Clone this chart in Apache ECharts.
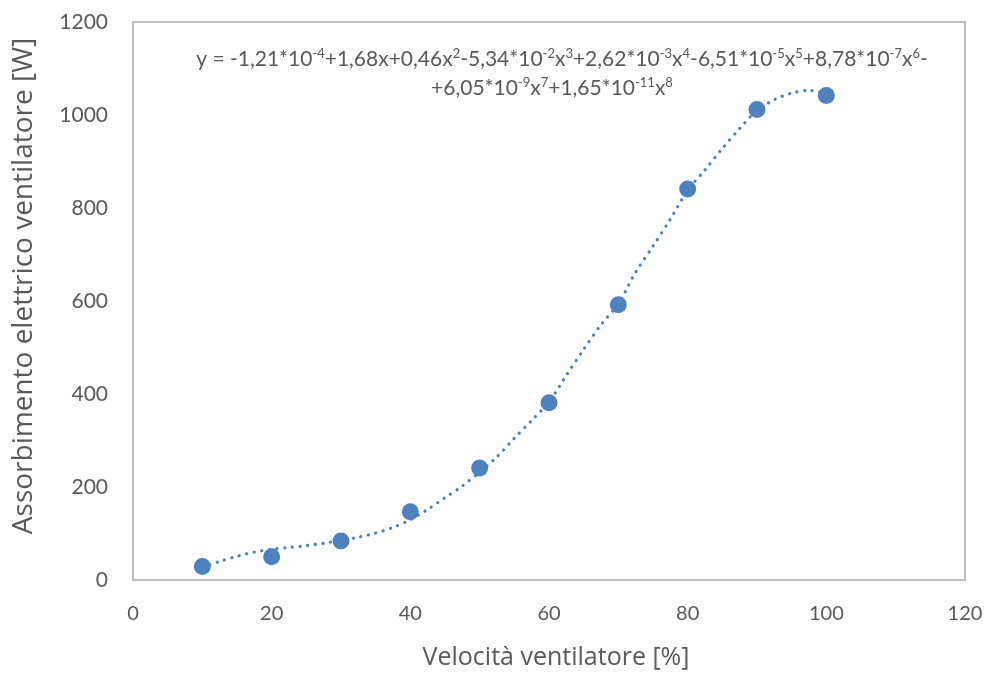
<!DOCTYPE html>
<html>
<head>
<meta charset="utf-8">
<script src="https://cdn.jsdelivr.net/npm/echarts@6/dist/echarts.min.js"></script>
<style>
html,body{margin:0;padding:0;background:#fff;}
#c{width:987px;height:675px;}
</style>
</head>
<body>
<div id="c"></div>
<script>
// Measured points
const speedPct = [10, 20, 30, 40, 50, 60, 70, 80, 90, 100];
const powerW = [29, 50, 84, 147, 241, 381, 592, 841, 1012, 1042];

// Trendline (dotted polynomial curve)
const trendX = [10, 12.5, 15, 17.5, 20, 22.5, 25, 27.5, 30, 32.5, 35, 37.5, 40, 42.5, 45, 47.5, 50, 52.5, 55, 57.5, 60, 62.5, 65, 67.5, 70, 72.5, 75, 77.5, 80, 82.5, 85, 87.5, 90, 92.5, 95, 97.5, 100];
const trendY = [28, 40, 51, 60, 66, 70, 74, 79, 85, 92, 101, 113, 130, 152, 177, 202, 232, 265, 305, 343, 383, 440, 496, 549, 594, 662, 718, 776, 838, 882, 928, 971, 1010, 1033, 1047, 1053, 1044];

const xTicks = [0, 20, 40, 60, 80, 100, 120];
const yTicks = [0, 200, 400, 600, 800, 1000, 1200];

const xTitle = 'Velocità ventilatore [%]';
const yTitle = 'Assorbimento elettrico ventilatore [W]';

// Equation label pieces: [base, superscript]
const eqLine1 = [['y = -1,21*10', '-4'], ['+1,68x+0,46x', '2'], ['-5,34*10', '-2'], ['x', '3'], ['+2,62*10', '-3'], ['x', '4'], ['-6,51*10', '-5'], ['x', '5'], ['+8,78*10', '-7'], ['x', '6'], ['-', '']];
const eqLine2 = [['+6,05*10', '-9'], ['x', '7'], ['+1,65*10', '-11'], ['x', '8']];

function richLine(parts) {
  return parts.map(p => '{n|' + p[0] + '}' + (p[1] ? '{s|' + p[1] + '}' : '')).join('');
}

const font = 'Lato, "Open Sans", sans-serif';
const titleFont = '"Open Sans", Lato, sans-serif';
const txt = '#595959';
const blue = '#4F81BD';

const eqRich = {
  n: {fontSize: 21, fontFamily: font, fill: txt, lineHeight: 24, verticalAlign: 'middle'},
  s: {fontSize: 13, fontFamily: font, fill: txt, lineHeight: 13, verticalAlign: 'top'}
};

const chart = echarts.init(document.getElementById('c'), null, {renderer: 'canvas'});
chart.setOption({
  animation: false,
  backgroundColor: '#ffffff',
  grid: {left: 133, right: 22, top: 22, bottom: 92, show: true, borderColor: '#bfbfbf', borderWidth: 2, backgroundColor: 'transparent'},
  xAxis: {
    type: 'value', min: xTicks[0], max: xTicks[xTicks.length - 1], interval: 20,
    axisLine: {show: false}, axisTick: {show: false}, splitLine: {show: false},
    axisLabel: {color: txt, fontSize: 20, fontFamily: font, margin: 24, formatter: v => String(v)},
    name: xTitle, nameLocation: 'middle', nameGap: 65,
    nameTextStyle: {color: txt, fontSize: 25, fontFamily: titleFont, padding: [0, 0, 0, 14]}
  },
  yAxis: {
    type: 'value', min: yTicks[0], max: yTicks[yTicks.length - 1], interval: 200,
    axisLine: {show: false}, axisTick: {show: false}, splitLine: {show: false},
    axisLabel: {color: txt, fontSize: 21, fontFamily: font, margin: 25, formatter: v => String(v)},
    name: yTitle, nameLocation: 'middle', nameGap: 95,
    nameTextStyle: {color: txt, fontSize: 28, fontFamily: titleFont, padding: [0, 0, 0, 30]}
  },
  graphic: [
    {type: 'text', x: 562, y: 47, style: {text: richLine(eqLine1), align: 'center', verticalAlign: 'top', rich: eqRich}},
    {type: 'text', x: 552, y: 76, style: {text: richLine(eqLine2), align: 'center', verticalAlign: 'top', rich: eqRich}}
  ],
  series: [
    {
      type: 'line', data: trendX.map((x, i) => [x, trendY[i]]),
      smooth: 0.3, showSymbol: false, symbol: 'none', silent: true,
      lineStyle: {color: blue, width: 3.2, type: [0.1, 7.6], cap: 'round'}, z: 1
    },
    {
      type: 'scatter', data: speedPct.map((x, i) => [x, powerW[i]]),
      symbolSize: 17, itemStyle: {color: blue, opacity: 1}, z: 2
    }
  ]
});
</script>
</body>
</html>
